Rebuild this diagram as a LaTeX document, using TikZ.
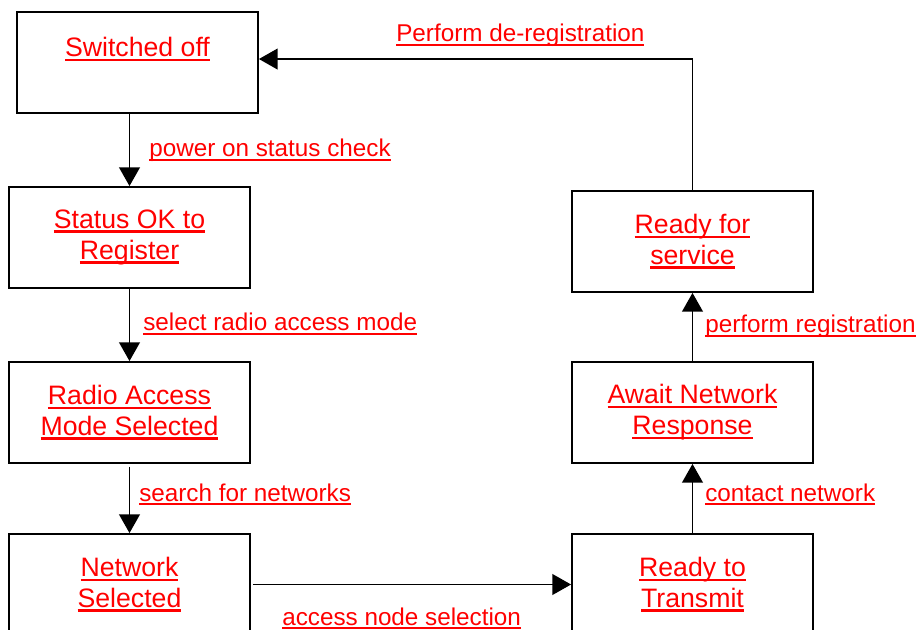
\documentclass[tikz,border=0pt]{standalone}
\usepackage{fontspec}
\setmainfont{Liberation Sans}
\usetikzlibrary{arrows.meta}
\newcommand{\myul}[1]{\setbox0\hbox{#1}\rlap{\rule[-3.0pt]{\wd0}{1.6pt}}\box0}
\begin{document}
\begin{tikzpicture}[x=0.75pt,y=-0.75pt,
  box/.style={draw, line width=1.4pt, minimum width=180.75pt, minimum height=75.75pt,
    inner sep=0pt, align=center, text=red, font=\fontsize{20}{23.2}\selectfont},
  lab/.style={anchor=base west, inner sep=0pt, text=red, font=\fontsize{18.2}{21}\selectfont},
  arr/.style={line width=1.4pt, -{Triangle[length=14pt,width=15.5pt]}}]
\useasboundingbox (0,0) rectangle (917,630);
\clip (0,0) rectangle (917,630);

\node[box] (off)   at (137.5,62.5)  {\myul{Switched off}\\\mbox{}};
\node[box] (ok)    at (129.5,237.5) {\myul{Status OK to}\\\myul{Register}};
\node[box] (radio) at (129.5,412.5) {\myul{Radio Access}\\\myul{Mode Selected}};
\node[box] (net)   at (129.5,584.5) {\myul{Network}\\\myul{Selected}};
\node[box] (rtt)   at (692.5,584.5) {\myul{Ready to}\\\myul{Transmit}};
\node[box] (await) at (692.5,412.5) {\myul{Await Network}\\\myul{Response}};
\node[box] (rfs)   at (692.5,241.5) {\myul{Ready for}\\\myul{service}};

\draw[arr] (ok.north |- off.south) -- (ok.north);
\draw[arr] (ok.south) -- (radio.north);
\draw[arr, shorten <=2pt] (radio.south) -- (net.north);
\draw[arr, shorten <=1.5pt] (net.east) -- (rtt.west);
\draw[arr] (rtt.north) -- (await.south);
\draw[arr] (await.north) -- (rfs.south);
\draw[arr] (rfs.north) |- ([yshift=2.6pt]off.east);

\node[lab] (l1) at (396,42)  {\myul{Perform de-registration}};
\node[lab] (l2) at (149,157) {\myul{power on status check}};
\node[lab] (l3) at (143,331) {\myul{select radio access mode}};
\node[lab] (l4) at (139,501) {\myul{search for networks}};
\node[lab] (l5) at (282,625) {\myul{access node selection}};
\node[lab] (l6) at (705,333) {\myul{perform registration}};
\node[lab] (l7) at (705,501) {\myul{contact network}};
\end{tikzpicture}
\end{document}
